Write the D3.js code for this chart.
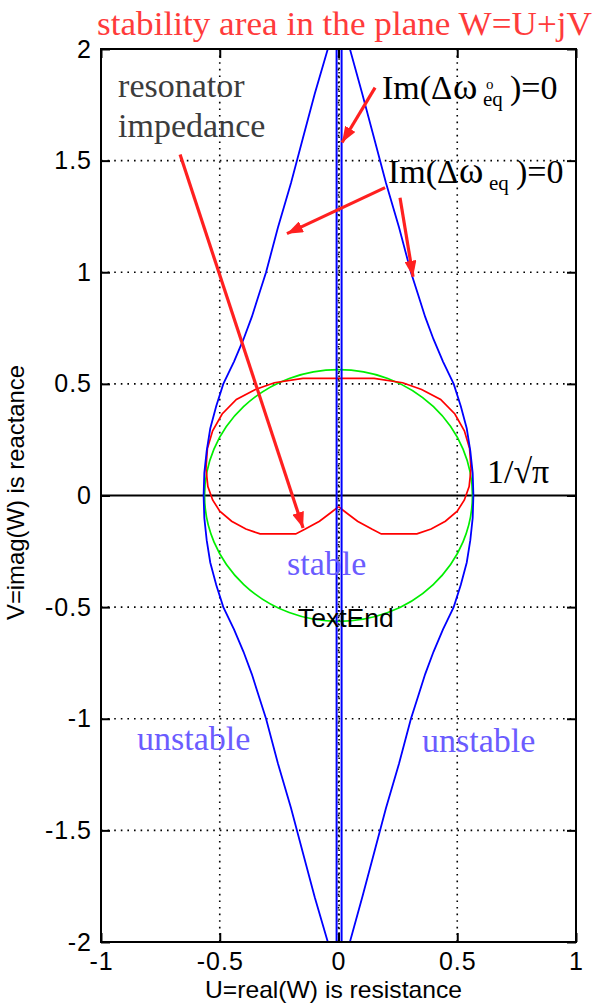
<!DOCTYPE html>
<html>
<head>
<meta charset="utf-8">
<script src="https://cdn.jsdelivr.net/npm/d3@7"></script>
<style>
  body { margin: 0; background: #fff; }
  svg { display: block; }
  .tick text { font-family: "Liberation Sans", Arial, sans-serif; font-size: 25px; letter-spacing: 1px; fill: #000; }
  .serif { font-family: "Liberation Serif", "Times New Roman", serif; }
</style>
</head>
<body>
<script>
// 軸の目盛り
const xTicks = [-1, -0.5, 0, 0.5, 1]
const yTicks = [-2, -1.5, -1, -0.5, 0, 0.5, 1, 1.5, 2]
const xTickLabels = ['-1', '-0.5', '0', '0.5', '1']
const yTickLabels = ['-2', '-1.5', '-1', '-0.5', '0', '0.5', '1', '1.5', '2']

// 青: Im(Δω_eq)=0 の外側の曲線（左右）
const blueV = [2.0, 1.8, 1.6, 1.4, 1.2, 1.0, 0.9, 0.8, 0.7, 0.6, 0.5, 0.4, 0.3, 0.2, 0.1, 0.0,
  -0.1, -0.2, -0.3, -0.4, -0.5, -0.6, -0.7, -0.8, -0.9, -1.0, -1.2, -1.4, -1.6, -1.8, -2.0]
const blueLeftU = [-0.045, -0.10, -0.15, -0.20, -0.255, -0.305, -0.335, -0.365, -0.40, -0.44, -0.485, -0.515, -0.54, -0.555, -0.565, -0.568,
  -0.565, -0.555, -0.54, -0.515, -0.485, -0.44, -0.40, -0.365, -0.335, -0.305, -0.255, -0.20, -0.15, -0.10, -0.045]
const blueRightU = [0.048, 0.10, 0.15, 0.20, 0.255, 0.305, 0.335, 0.365, 0.40, 0.44, 0.485, 0.515, 0.54, 0.555, 0.565, 0.568,
  0.565, 0.555, 0.54, 0.515, 0.485, 0.44, 0.40, 0.365, 0.335, 0.305, 0.255, 0.20, 0.15, 0.10, 0.048]
// 青: Im(Δω°_eq)=0 のほぼ垂直な2本
const innerU = [-0.008, 0.013]

// 赤: resonator impedance
const redU = [0, -0.03, -0.08, -0.14, -0.18, -0.33, -0.39, -0.45, -0.50, -0.53, -0.55, -0.558, -0.552, -0.53, -0.49, -0.43, -0.35, -0.27, -0.15,
  0, 0.15, 0.27, 0.35, 0.43, 0.49, 0.53, 0.552, 0.558, 0.55, 0.53, 0.50, 0.45, 0.39, 0.33, 0.18, 0.14, 0.08, 0.03, 0]
const redV = [-0.05, -0.075, -0.115, -0.15, -0.172, -0.172, -0.15, -0.115, -0.07, -0.02, 0.04, 0.12, 0.21, 0.29, 0.365, 0.43, 0.475, 0.505, 0.525,
  0.525, 0.525, 0.505, 0.475, 0.43, 0.365, 0.29, 0.21, 0.12, 0.04, -0.02, -0.07, -0.115, -0.15, -0.172, -0.172, -0.15, -0.115, -0.075, -0.05]

// 緑: 半径 1/√π の円
const circleR = 0.564

// 注釈の矢印（始点 → 終点）
const arrowFrom = [[-0.667, 1.527], [0.154, 1.827], [0.196, 1.379], [0.259, 1.334]]
const arrowTo = [[-0.149, -0.146], [0.015, 1.581], [-0.217, 1.173], [0.314, 0.980]]

// 注釈テキスト
const noteText = ['resonator', 'impedance', '1/√π', 'stable', 'unstable', 'unstable']
const noteU = [-0.928, -0.928, 0.625, -0.217, -0.848, 0.352]
const noteV = [1.787, 1.606, 0.056, -0.357, -1.141, -1.15]
const noteColor = ['#3c3c3c', '#3c3c3c', '#000', '#6b5cff', '#6b5cff', '#6b5cff']

const imLabelU = [0.183, 0.208]
const imLabelV = [1.774, 1.401]

const W = 599
const H = 1003
const pLeft = 101, pRight = 576, pTop = 49, pBottom = 942

const svg = d3.select('body').append('svg')
  .attr('width', W)
  .attr('height', H)

const x = d3.scaleLinear().domain([-1, 1]).range([pLeft, pRight])
const y = d3.scaleLinear().domain([-2, 2]).range([pBottom, pTop])

const defs = svg.append('defs')
defs.append('clipPath').attr('id', 'plot')
  .append('rect')
  .attr('x', pLeft).attr('y', pTop)
  .attr('width', pRight - pLeft).attr('height', pBottom - pTop)

defs.append('marker')
  .attr('id', 'head')
  .attr('markerUnits', 'userSpaceOnUse')
  .attr('viewBox', '0 0 16 12')
  .attr('refX', 16).attr('refY', 6)
  .attr('markerWidth', 16).attr('markerHeight', 12)
  .attr('orient', 'auto')
  .append('path')
  .attr('d', 'M0,0 L16,6 L0,12 Z')
  .attr('fill', '#ff2020')

// グリッド（点線）
const grid = svg.append('g')
grid.selectAll('line.gx')
  .data(xTicks.slice(1, -1))
  .enter().append('line')
  .attr('class', 'gx')
  .attr('x1', d => x(d)).attr('x2', d => x(d))
  .attr('y1', pTop).attr('y2', pBottom)
grid.selectAll('line.gy')
  .data(yTicks.slice(1, -1).filter(d => d !== 0))
  .enter().append('line')
  .attr('class', 'gy')
  .attr('x1', pLeft).attr('x2', pRight)
  .attr('y1', d => y(d)).attr('y2', d => y(d))
grid.selectAll('line')
  .attr('stroke', '#000')
  .attr('stroke-width', 1.6)
  .attr('stroke-dasharray', '1.6,5')

// 軸（MATLAB風に内向きの目盛り）
const fmtX = (d, i) => xTickLabels[i]
const fmtY = (d, i) => yTickLabels[i]

svg.append('g')
  .attr('transform', `translate(0,${pBottom})`)
  .call(d3.axisBottom(x).tickValues(xTicks).tickFormat(fmtX).tickSize(-9).tickPadding(10))
svg.append('g')
  .attr('transform', `translate(0,${pTop})`)
  .call(d3.axisTop(x).tickValues(xTicks).tickFormat('').tickSize(-9))
svg.append('g')
  .attr('transform', `translate(${pLeft},0)`)
  .call(d3.axisLeft(y).tickValues(yTicks).tickFormat(fmtY).tickSize(-9).tickPadding(9))
svg.append('g')
  .attr('transform', `translate(${pRight},0)`)
  .call(d3.axisRight(y).tickValues(yTicks).tickFormat('').tickSize(-9))

svg.selectAll('.domain').remove()
svg.selectAll('.tick line').attr('stroke', '#000').attr('stroke-width', 2)

// 曲線
const plot = svg.append('g').attr('clip-path', 'url(#plot)')

// y=0 の線
plot.append('line')
  .attr('x1', pLeft).attr('x2', pRight)
  .attr('y1', y(0)).attr('y2', y(0))
  .attr('stroke', '#000').attr('stroke-width', 2)

const line = d3.line()

plot.append('ellipse')
  .attr('cx', x(0)).attr('cy', y(0))
  .attr('rx', x(circleR) - x(0)).attr('ry', y(0) - y(circleR))
  .attr('fill', 'none').attr('stroke', '#00ee00').attr('stroke-width', 1.7)

plot.append('path')
  .attr('d', line(redU.map((u, i) => [x(u), y(redV[i])])))
  .attr('fill', 'none').attr('stroke', '#ff0000').attr('stroke-width', 1.7)

;[blueLeftU, blueRightU].forEach((us) => {
  plot.append('path')
    .attr('d', line(us.map((u, i) => [x(u), y(blueV[i])])))
    .attr('fill', 'none').attr('stroke', '#0000ff').attr('stroke-width', 1.8)
})

plot.selectAll('line.inner')
  .data(innerU)
  .enter().append('line')
  .attr('class', 'inner')
  .attr('x1', d => x(d)).attr('x2', d => x(d))
  .attr('y1', pTop).attr('y2', pBottom)
  .attr('stroke', '#0000ff').attr('stroke-width', 2)

// x=0 の点線を青線の間に重ねる
plot.append('line')
  .attr('x1', x(0.0025)).attr('x2', x(0.0025))
  .attr('y1', pTop).attr('y2', pBottom)
  .attr('stroke', '#000').attr('stroke-width', 1.6)
  .attr('stroke-dasharray', '1.6,3')

// 枠
svg.append('rect')
  .attr('x', pLeft).attr('y', pTop)
  .attr('width', pRight - pLeft).attr('height', pBottom - pTop)
  .attr('fill', 'none').attr('stroke', '#000').attr('stroke-width', 2)

// 矢印
svg.selectAll('line.arrow')
  .data(arrowFrom)
  .enter().append('line')
  .attr('class', 'arrow')
  .attr('x1', d => x(d[0])).attr('y1', d => y(d[1]))
  .attr('x2', (d, i) => x(arrowTo[i][0])).attr('y2', (d, i) => y(arrowTo[i][1]))
  .attr('stroke', '#ff2020').attr('stroke-width', 3.2)
  .attr('marker-end', 'url(#head)')

// タイトル
svg.append('text')
  .attr('class', 'serif')
  .attr('x', 97).attr('y', 35)
  .attr('textLength', 495).attr('lengthAdjust', 'spacingAndGlyphs')
  .style('font-size', '34px')
  .attr('fill', '#ff3b3b')
  .text('stability area in the plane W=U+jV')

// 注釈
svg.selectAll('text.note')
  .data(noteText)
  .enter().append('text')
  .attr('class', 'serif note')
  .attr('x', (d, i) => x(noteU[i]))
  .attr('y', (d, i) => y(noteV[i]))
  .attr('fill', (d, i) => noteColor[i])
  .style('font-size', '34px')
  .text(d => d)

svg.append('text')
  .attr('x', x(-0.171)).attr('y', y(-0.59))
  .attr('textLength', 96).attr('lengthAdjust', 'spacingAndGlyphs')
  .style('font-family', '"Liberation Sans", Arial, sans-serif')
  .style('font-size', '26px')
  .text('TextEnd')

// Im(Δω°eq)=0 と Im(Δω eq)=0
imLabelU.forEach((u, k) => {
  const g = svg.append('g')
    .attr('class', 'serif')
    .attr('transform', `translate(${x(u)},${y(imLabelV[k])})`)
  g.append('text').attr('x', 0).style('font-size', '34px').text('Im(')
  g.append('text').attr('x', 49).style('font-size', '33px').text('Δ')
  g.append('text').attr('x', 71).style('font-size', '37px').text('ω')
  if (k === 0) {
    g.append('text').attr('x', 104).attr('y', -10).style('font-size', '15px').text('o')
  }
  g.append('text').attr('x', 101).attr('y', 7).style('font-size', '21px').text('eq')
  g.append('text').attr('x', 128).style('font-size', '34px').text(')=0')
})

// 軸ラベル
svg.append('text')
  .attr('x', 205).attr('y', 998)
  .attr('textLength', 257).attr('lengthAdjust', 'spacingAndGlyphs')
  .style('font-family', '"Liberation Sans", Arial, sans-serif')
  .style('font-size', '24px')
  .text('U=real(W) is resistance')

svg.append('text')
  .attr('transform', 'translate(24,620) rotate(-90)')
  .attr('textLength', 255).attr('lengthAdjust', 'spacingAndGlyphs')
  .style('font-family', '"Liberation Sans", Arial, sans-serif')
  .style('font-size', '24px')
  .text('V=imag(W) is reactance')
</script>
</body>
</html>
